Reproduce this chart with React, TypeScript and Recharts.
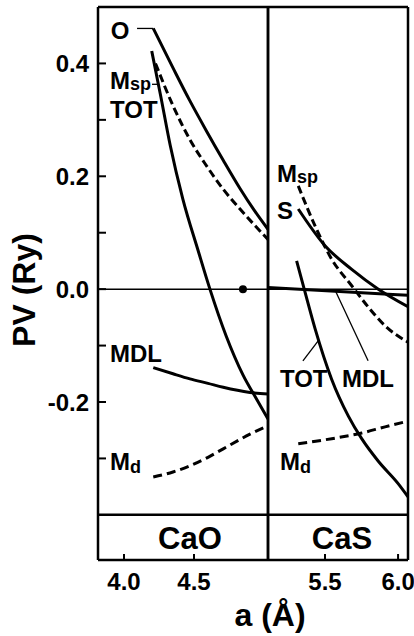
import React from 'react';
import { LineChart, Line, XAxis, YAxis, ReferenceLine, ReferenceDot } from 'recharts';

const FONT = '"Liberation Sans", Arial, Helvetica, sans-serif';

// CaO panel: [a (Å), PV (Ry)]
const caoO = [[4.209, 0.462], [4.35, 0.392], [4.47, 0.334], [4.59, 0.28], [4.71, 0.228], [4.83, 0.178], [4.93, 0.14], [5.029, 0.106]];
const caoMsp = [[4.225, 0.4], [4.352, 0.324], [4.471, 0.265], [4.591, 0.218], [4.709, 0.177], [4.829, 0.142], [5.029, 0.088]];
const caoTot = [[4.198, 0.422], [4.26, 0.345], [4.33, 0.255], [4.42, 0.16], [4.53, 0.068], [4.614, 0.0], [4.73, -0.083], [4.85, -0.152], [4.95, -0.196], [5.029, -0.23]];
const caoMdl = [[4.209, -0.139], [4.35, -0.15], [4.471, -0.159], [4.6, -0.167], [4.709, -0.174], [4.9, -0.183], [5.029, -0.186]];
const caoMd = [[4.209, -0.333], [4.35, -0.324], [4.471, -0.313], [4.6, -0.298], [4.709, -0.283], [4.9, -0.257], [5.029, -0.242]];
const caoDot = [4.85, 0];

// CaS panel
const casMsp = [[5.317, 0.183], [5.432, 0.112], [5.546, 0.053], [5.683, 0.006], [5.797, -0.032], [5.911, -0.065], [6.068, -0.094]];
const casS = [[5.317, 0.142], [5.5, 0.077], [5.683, 0.035], [5.865, 0.0], [6.068, -0.031]];
const casTot = [[5.306, 0.05], [5.363, -0.005], [5.432, -0.07], [5.546, -0.16], [5.66, -0.225], [5.751, -0.265], [5.865, -0.305], [6.002, -0.345], [6.068, -0.368]];
const casMdl = [[5.11, 0.003], [5.6, -0.004], [6.068, -0.011]];
const casMd = [[5.317, -0.274], [5.546, -0.265], [5.751, -0.255], [5.911, -0.244], [6.068, -0.234]];

const yDomain = [-0.48, 0.5];
const yTicks = [-0.3, -0.2, -0.1, 0, 0.1, 0.2, 0.3, 0.4];
const yLabelled = [-0.2, 0, 0.2, 0.4];
const caoDomain = [3.814, 5.029];
const casDomain = [5.11, 6.068];
const caoTicks = [4.0, 4.5];
const caoTopTicks = [4.5];
const casTicks = [5.5, 6.0];

const caoLabels = [
  { a: 3.905, v: 0.444, t: 'O' },
  { a: 3.9, v: 0.354, t: 'M', sub: 'sp' },
  { a: 3.9, v: 0.304, t: 'TOT' },
  { a: 3.9, v: -0.129, t: 'MDL' },
  { a: 3.9, v: -0.32, t: 'M', sub: 'd' },
  { a: 4.471, v: -0.46, t: 'CaO', big: true },
];
const casLabels = [
  { a: 5.171, v: 0.189, t: 'M', sub: 'sp' },
  { a: 5.171, v: 0.124, t: 'S' },
  { a: 5.192, v: -0.173, t: 'TOT' },
  { a: 5.616, v: -0.173, t: 'MDL' },
  { a: 5.192, v: -0.32, t: 'M', sub: 'd' },
  { a: 5.616, v: -0.46, t: 'CaS', big: true },
];
const caoLeaders = [
  [[4.093, 0.462], [4.209, 0.462]],
  [[4.2, 0.363], [4.243, 0.363]],
];
const casLeaders = [
  [[5.349, -0.127], [5.452, -0.092]],
  [[5.795, -0.127], [5.575, -0.005]],
];

const pts = (arr: number[][]) => arr.map(([a, v]) => ({ a, v }));
const frame = { stroke: '#000', strokeWidth: 2.5 };
const tickLn = { stroke: '#000', strokeWidth: 2 };

const YTick = (p: any) => {
  const v = p.payload.value;
  if (!yLabelled.some((t) => Math.abs(t - v) < 1e-9)) return <g />;
  return (
    <text x={89} y={p.y} dy={8.5} textAnchor="end" fontFamily={FONT} fontWeight={700} fontSize={24} fill="#000">
      {v.toFixed(1)}
    </text>
  );
};

const XTick = (p: any) => (
  <text x={p.x} y={590} textAnchor="middle" fontFamily={FONT} fontWeight={700} fontSize={24} fill="#000">
    {p.payload.value.toFixed(1)}
  </text>
);

function textShape(l: any) {
  return (p: any) => (
    <text
      x={p.cx}
      y={p.cy}
      textAnchor={l.big ? 'middle' : 'start'}
      fontFamily={FONT}
      fontWeight={700}
      fontSize={l.big ? 31 : 24}
      fill="#000"
    >
      {l.t}
      {l.sub && (
        <tspan fontSize={18} dy={l.sub === 'd' ? 3 : 1}>
          {l.sub}
        </tspan>
      )}
    </text>
  );
}

function Panel(props: any) {
  const { left, width, margin, domain, ticks, topTicks, series, labels, leaders, main, dot } = props;
  return (
    <div style={{ position: 'absolute', left, top: 0 }}>
      <LineChart width={width} height={636} margin={margin}>
        <XAxis
          xAxisId="b"
          type="number"
          dataKey="a"
          domain={domain}
          ticks={ticks}
          allowDataOverflow
          height={40}
          tickSize={-6}
          tick={<XTick />}
          axisLine={frame}
          tickLine={tickLn}
        />
        <XAxis
          xAxisId="t"
          orientation="top"
          type="number"
          dataKey="a"
          domain={domain}
          ticks={topTicks}
          allowDataOverflow
          height={1}
          tickSize={-6}
          tick={false}
          axisLine={frame}
          tickLine={tickLn}
        />
        <YAxis
          yAxisId="l"
          type="number"
          domain={yDomain}
          ticks={yTicks}
          allowDataOverflow
          width={main ? 60 : 1}
          tickSize={main ? -8 : 0}
          tick={main ? <YTick /> : false}
          tickLine={main ? tickLn : false}
          axisLine={frame}
        />
        <YAxis
          yAxisId="r"
          orientation="right"
          type="number"
          domain={yDomain}
          ticks={yTicks}
          allowDataOverflow
          width={1}
          tickSize={main ? 0 : -8}
          tick={false}
          tickLine={main ? false : tickLn}
          axisLine={frame}
        />
        <ReferenceLine xAxisId="b" yAxisId="l" y={0} stroke="#000" strokeWidth={1.5} />
        <ReferenceLine xAxisId="b" yAxisId="l" y={-0.4} stroke="#000" strokeWidth={2.5} />
        {leaders.map((s: number[][], i: number) => (
          <ReferenceLine
            key={'ld' + i}
            xAxisId="b"
            yAxisId="l"
            segment={[{ x: s[0][0], y: s[0][1] }, { x: s[1][0], y: s[1][1] }]}
            stroke="#000"
            strokeWidth={1.3}
            ifOverflow="visible"
          />
        ))}
        {series.map((s: any, i: number) => (
          <Line
            key={'s' + i}
            xAxisId="b"
            yAxisId="l"
            data={pts(s.d)}
            dataKey="v"
            type="monotone"
            stroke="#000"
            strokeWidth={3}
            strokeDasharray={s.dash}
            dot={false}
            activeDot={false}
            isAnimationActive={false}
          />
        ))}
        {dot && <ReferenceDot xAxisId="b" yAxisId="l" x={dot[0]} y={dot[1]} r={4} fill="#000" stroke="none" />}
        {labels.map((l: any, i: number) => (
          <ReferenceDot
            key={'lb' + i}
            xAxisId="b"
            yAxisId="l"
            x={l.a}
            y={l.v}
            r={0}
            ifOverflow="visible"
            shape={textShape(l)}
          />
        ))}
      </LineChart>
    </div>
  );
}

export default function App() {
  return (
    <div style={{ position: 'absolute', left: 0, top: 0, width: 414, height: 636, background: '#fff' }}>
      <Panel
        left={0}
        width={280}
        margin={{ top: 6, right: 11, bottom: 36, left: 38 }}
        domain={caoDomain}
        ticks={caoTicks}
        topTicks={caoTopTicks}
        main
        dot={caoDot}
        series={[
          { d: caoO },
          { d: caoMsp, dash: '8 4' },
          { d: caoTot },
          { d: caoMdl },
          { d: caoMd, dash: '9 5' },
        ]}
        labels={caoLabels}
        leaders={caoLeaders}
      />
      <Panel
        left={258}
        width={156}
        margin={{ top: 6, right: 5, bottom: 36, left: 9 }}
        domain={casDomain}
        ticks={casTicks}
        topTicks={casTicks}
        series={[
          { d: casMsp, dash: '8 4' },
          { d: casS },
          { d: casTot },
          { d: casMdl },
          { d: casMd, dash: '9 5' },
        ]}
        labels={casLabels}
        leaders={casLeaders}
      />
      <svg width={414} height={636} style={{ position: 'absolute', left: 0, top: 0, pointerEvents: 'none' }}>
        <text
          transform="translate(35,290) rotate(-90)"
          textAnchor="middle"
          fontFamily={FONT}
          fontWeight={700}
          fontSize={32}
          fill="#000"
        >
          PV (Ry)
        </text>
        <text x={270} y={626} textAnchor="middle" fontFamily={FONT} fontWeight={700} fontSize={32} fill="#000">
          a (Å)
        </text>
      </svg>
    </div>
  );
}
